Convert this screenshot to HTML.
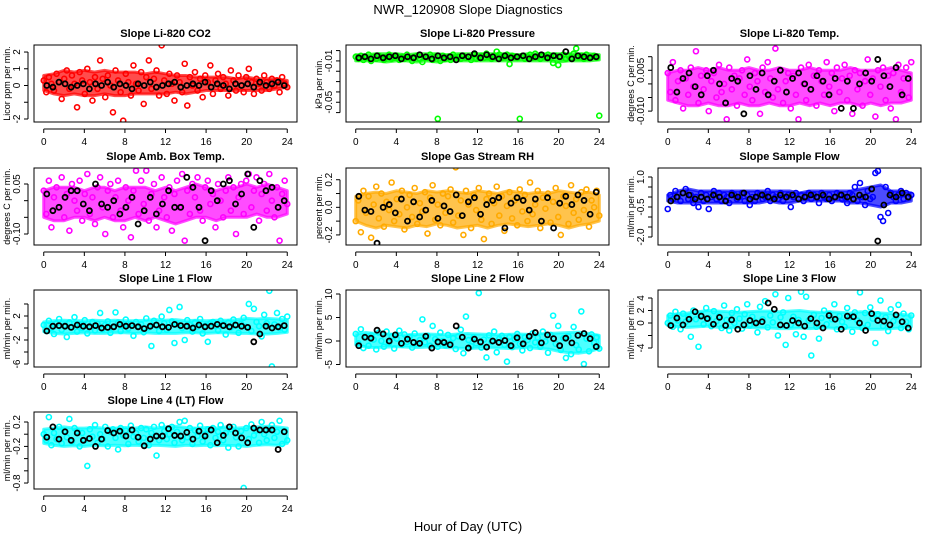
<!DOCTYPE html>
<html><head><meta charset="utf-8">
<style>
html,body{margin:0;padding:0;background:#fff;}
svg{display:block;font-family:"Liberation Sans",sans-serif;}
</style></head>
<body>
<svg id="chart" width="936" height="540" viewBox="0 0 936 540">
<rect width="936" height="540" fill="#fff"/>
<text x="468" y="14" text-anchor="middle" font-size="13">NWR_120908  Slope Diagnostics</text>
<text x="468" y="531" text-anchor="middle" font-size="13">Hour of Day (UTC)</text>
</svg>
<script>
const xTicks = [0,4,8,12,16,20,24];
const co2 = [0.3,-0.4,0.5,0.1,-0.3,0.7,0.2,-0.8,0.4,0.9,-0.2,0.6,0.1,-1.3,0.8,0.3,-0.5,1.0,0.2,-0.9,0.5,-0.2,1.5,0.4,-0.7,0.6,0.0,-1.6,0.9,0.3,-0.4,-2.1,0.7,0.2,-0.6,1.2,0.1,-0.3,0.8,-1.1,0.5,1.5,-0.2,0.4,0.9,-0.6,2.4,0.3,-0.5,0.7,0.1,-0.9,0.6,0.2,-0.4,1.3,-1.2,0.5,0.0,0.8,-0.3,0.4,-0.7,0.6,0.2,1.2,-0.5,0.3,0.7,-0.2,0.5,0.1,-0.6,0.9,0.3,-0.3,0.6,0.0,-0.4,0.5,1.0,0.2,-0.5,0.4,0.1,-0.3,0.6,0.2,-0.2,0.4,0.0,0.3,-0.4,0.5,0.1,-0.1];
const co2Blk = [0.0,-0.1,0.2,0.1,-0.1,0.0,0.1,-0.2,0.1,0.0,0.2,-0.1,0.1,0.0,-0.2,0.1,0.0,0.2,-0.1,0.0,0.1,0.2,-0.1,0.0,0.1,0.0,0.2,-0.1,0.1,0.0,-0.2,0.1,0.0,0.1,-0.1,0.2,0.0,0.1,0.2,0.0];
const co2Hi = [0.6,0.7,0.9,0.8,0.9,0.8,0.9,0.8,0.8,0.8,0.7,0.8,0.7,0.6,0.6,0.5,0.5,0.5,0.5,0.4,0.5,0.4,0.4,0.4,0.3];
const co2Lo = [-0.3,-0.5,-0.6,-0.5,-0.6,-0.6,-0.5,-0.6,-0.6,-0.5,-0.5,-0.5,-0.5,-0.4,-0.5,-0.4,-0.3,-0.3,-0.3,-0.3,-0.3,-0.3,-0.3,-0.2,-0.1];
const pres = [-0.006,-0.008,-0.005,-0.009,-0.007,-0.004,-0.010,-0.006,-0.008,-0.005,-0.007,-0.009,-0.006,-0.004,-0.008,-0.007,-0.005,-0.009,-0.006,-0.008,-0.004,-0.007,-0.010,-0.006,-0.005,-0.008,-0.011,-0.006,-0.007,-0.004,-0.009,-0.006,-0.066,-0.010,-0.005,-0.008,-0.006,-0.009,-0.004,-0.007,-0.006,-0.008,-0.005,-0.007,-0.006,-0.009,-0.004,-0.008,-0.006,-0.005,-0.007,-0.003,-0.006,-0.008,-0.005,-0.001,-0.004,-0.007,-0.006,-0.004,-0.013,-0.005,-0.006,-0.007,-0.066,-0.005,-0.008,-0.006,-0.004,-0.007,-0.003,-0.006,-0.008,-0.005,-0.006,-0.004,-0.007,-0.012,-0.005,-0.014,-0.006,-0.004,-0.008,-0.005,-0.007,-0.003,0.002,-0.006,-0.005,-0.008,-0.004,-0.007,-0.006,-0.005,-0.007,-0.063];
const presBlk = [-0.007,-0.006,-0.008,-0.005,-0.007,-0.006,-0.005,-0.008,-0.006,-0.007,-0.004,-0.006,-0.008,-0.005,-0.007,-0.006,-0.009,-0.005,-0.006,-0.003,-0.007,-0.004,-0.006,-0.008,-0.005,-0.007,-0.006,-0.005,-0.008,-0.006,-0.004,-0.007,-0.005,-0.006,-0.001,-0.008,-0.005,-0.006,-0.007,-0.006];
const presHi = [-0.004,-0.004,-0.003,-0.003,-0.003,-0.004,-0.003,-0.003,-0.003,-0.004,-0.003,-0.003,-0.003,-0.003,-0.003,-0.003,-0.004,-0.003,-0.003,-0.003,-0.003,-0.003,-0.003,-0.003,-0.004];
const presLo = [-0.010,-0.010,-0.010,-0.011,-0.010,-0.010,-0.011,-0.010,-0.011,-0.010,-0.010,-0.010,-0.010,-0.010,-0.010,-0.010,-0.010,-0.010,-0.010,-0.010,-0.011,-0.010,-0.010,-0.010,-0.009];
const temp = [0.004,-0.003,0.008,-0.006,0.001,0.005,-0.009,0.002,-0.004,0.006,-0.001,0.012,-0.007,0.003,-0.002,0.005,-0.010,0.001,0.004,-0.005,0.007,-0.003,0.000,-0.013,0.006,-0.002,0.003,-0.008,0.002,0.005,-0.004,0.009,-0.001,-0.006,0.004,0.001,-0.011,0.006,-0.003,0.008,0.002,-0.005,0.013,-0.002,0.005,-0.007,0.001,0.004,-0.009,0.003,-0.004,-0.013,0.006,0.000,-0.006,0.007,-0.002,0.003,-0.008,0.005,0.001,-0.004,0.008,-0.001,0.004,-0.010,0.006,-0.003,0.002,0.007,-0.006,0.003,-0.011,0.005,-0.002,0.004,-0.008,0.001,0.009,-0.004,0.002,-0.012,0.005,-0.001,0.006,-0.006,0.003,-0.009,0.004,-0.013,0.007,-0.003,0.002,0.006,-0.005,0.008];
const tempBlk = [0.006,-0.003,0.002,0.004,-0.001,-0.004,0.003,0.005,0.000,-0.007,0.002,0.001,-0.011,0.003,-0.002,0.004,-0.004,0.001,0.005,-0.003,0.002,0.004,0.000,-0.002,0.003,0.001,-0.004,0.002,-0.009,0.001,-0.009,0.000,0.004,0.001,0.009,0.003,-0.001,0.006,-0.004,0.002];
const tempHi = [0.004,0.005,0.005,0.006,0.005,0.006,0.005,0.005,0.006,0.005,0.005,0.006,0.005,0.005,0.006,0.005,0.005,0.005,0.006,0.005,0.005,0.005,0.006,0.005,0.004];
const tempLo = [-0.006,-0.007,-0.008,-0.008,-0.007,-0.008,-0.008,-0.007,-0.008,-0.008,-0.007,-0.008,-0.008,-0.007,-0.008,-0.007,-0.008,-0.007,-0.007,-0.008,-0.007,-0.008,-0.007,-0.007,-0.006];
const amb = [0.03,-0.04,0.06,-0.08,0.01,0.04,-0.02,0.07,-0.05,0.02,-0.09,0.05,0.00,-0.03,0.06,-0.06,0.02,0.08,-0.04,0.01,-0.07,0.04,0.07,-0.02,-0.10,0.03,0.05,-0.05,0.01,0.06,-0.03,-0.08,0.04,0.00,-0.11,0.03,0.09,-0.04,0.06,-0.01,0.09,-0.06,0.02,0.05,-0.08,-0.03,0.07,0.01,-0.05,0.04,-0.09,0.02,0.06,-0.02,0.08,-0.12,0.03,-0.04,0.05,0.01,0.07,-0.03,-0.06,0.04,0.06,-0.01,0.02,-0.08,0.05,0.00,-0.05,0.03,0.07,-0.03,0.04,-0.10,0.01,0.05,-0.04,0.06,0.08,-0.02,0.03,0.07,-0.06,0.02,0.05,-0.03,0.08,0.00,-0.05,0.04,-0.12,0.02,0.06,-0.01];
const ambBlk = [0.02,-0.03,-0.02,0.01,0.03,0.03,-0.01,-0.03,0.05,-0.01,-0.02,0.00,-0.04,-0.02,0.01,-0.07,-0.03,0.01,-0.04,-0.01,0.03,-0.02,-0.02,0.07,0.04,-0.02,-0.12,0.03,0.00,0.05,0.06,-0.01,0.02,0.08,-0.08,0.06,0.03,0.04,-0.02,0.00];
const ambHi = [0.03,0.04,0.04,0.04,0.03,0.04,0.04,0.03,0.04,0.04,0.04,0.03,0.04,0.03,0.04,0.05,0.04,0.03,0.04,0.04,0.05,0.04,0.05,0.04,0.03];
const ambLo = [-0.05,-0.06,-0.06,-0.05,-0.05,-0.06,-0.05,-0.06,-0.06,-0.05,-0.06,-0.05,-0.06,-0.07,-0.06,-0.05,-0.05,-0.06,-0.05,-0.05,-0.05,-0.04,-0.05,-0.05,-0.04];
const rh = [-0.1,0.05,-0.18,0.12,-0.04,0.08,-0.22,0.02,0.15,-0.08,0.1,-0.14,0.04,-0.02,0.18,-0.1,0.06,-0.05,0.12,-0.16,0.0,0.09,-0.07,0.14,-0.12,0.03,-0.03,0.11,-0.19,0.07,0.16,-0.09,0.02,-0.13,0.1,-0.04,0.08,0.13,-0.11,0.29,-0.06,0.05,-0.2,0.12,0.02,-0.15,0.09,-0.02,0.14,-0.09,-0.23,0.06,0.1,-0.12,0.03,0.15,-0.06,0.08,-0.17,0.01,0.11,-0.08,0.05,-0.13,0.13,-0.03,0.09,-0.1,0.18,-0.05,0.02,0.12,-0.15,0.07,-0.01,0.1,-0.11,0.04,0.14,-0.07,-0.2,0.08,0.01,-0.12,0.16,-0.04,0.06,-0.09,0.11,-0.02,0.13,-0.14,0.05,0.0,0.12,-0.06];
const rhBlk = [0.08,-0.02,-0.03,-0.26,0.0,0.02,-0.04,0.06,-0.1,0.04,-0.07,-0.02,0.05,-0.08,0.01,-0.03,0.09,-0.06,0.04,0.07,-0.05,0.02,0.05,0.07,-0.15,0.03,0.07,0.05,-0.02,0.06,-0.1,0.07,-0.15,0.03,0.08,0.02,0.09,0.05,-0.05,0.11];
const rhHi = [0.08,0.1,0.11,0.1,0.12,0.11,0.1,0.12,0.11,0.12,0.11,0.1,0.12,0.11,0.1,0.12,0.11,0.1,0.11,0.1,0.12,0.11,0.1,0.11,0.09];
const rhLo = [-0.1,-0.13,-0.15,-0.13,-0.14,-0.15,-0.13,-0.14,-0.12,-0.13,-0.15,-0.14,-0.13,-0.15,-0.13,-0.12,-0.13,-0.14,-0.13,-0.12,-0.13,-0.15,-0.13,-0.12,-0.1];
const samp = [-0.6,0.1,-0.1,0.3,0.0,-0.2,0.2,0.4,-0.1,0.1,-0.3,0.0,-0.5,0.2,-0.2,0.1,-0.6,0.0,0.3,-0.1,0.2,-0.2,0.1,0.0,-0.3,0.2,0.1,-0.1,0.0,0.2,-0.2,0.1,-0.4,0.0,-0.2,0.2,0.1,-0.1,0.0,0.3,-0.2,0.1,0.0,-0.1,0.2,-0.2,0.0,0.1,-0.5,0.0,0.2,-0.1,0.1,-0.2,0.0,0.2,-0.1,0.1,0.0,-0.3,0.2,0.0,-0.1,0.1,-0.2,0.0,0.2,0.1,-0.1,0.0,-0.3,0.2,0.1,0.5,-0.2,0.7,0.0,-0.4,0.3,-0.1,0.0,1.2,1.3,-1.0,-1.2,0.5,-0.8,0.2,0.0,-0.2,0.1,0.3,-0.1,0.2,0.0,0.1];
const sampBlk = [-0.2,0.0,0.2,0.1,-0.1,0.0,-0.1,0.1,0.0,-0.2,0.1,0.0,0.2,-0.1,0.0,0.1,0.0,-0.1,0.1,0.0,0.1,-0.1,0.0,0.1,0.0,0.1,-0.1,0.0,0.1,0.0,-0.1,0.1,0.0,0.4,-2.2,-0.4,0.1,0.0,0.2,0.0];
const sampHi = [0.1,0.3,0.4,0.3,0.3,0.3,0.3,0.3,0.3,0.3,0.3,0.3,0.3,0.2,0.3,0.3,0.3,0.3,0.3,0.4,0.5,0.6,0.3,0.3,0.2];
const sampLo = [-0.2,-0.3,-0.3,-0.3,-0.3,-0.3,-0.3,-0.3,-0.3,-0.3,-0.2,-0.3,-0.3,-0.2,-0.2,-0.2,-0.2,-0.2,-0.3,-0.3,-0.4,-0.5,-0.3,-0.3,-0.2];
const line1 = [0.5,-0.5,1.2,0.0,-1.0,0.8,1.5,-0.3,0.4,-1.5,0.9,0.2,1.8,-0.6,0.6,0.0,1.3,-0.9,0.3,1.0,-0.4,0.7,2.5,-0.2,0.5,1.1,-0.8,0.2,2.6,0.9,-0.5,0.4,1.4,-0.1,0.7,-1.3,1.0,0.3,0.6,-0.7,1.6,0.1,-3.0,1.2,0.4,-0.5,1.9,0.8,-0.3,3.0,1.1,-2.5,0.6,3.5,0.0,-2.0,1.3,0.5,-0.6,0.9,0.2,1.5,-0.9,0.4,-2.3,0.8,1.0,0.3,-0.4,1.2,0.6,-1.1,0.9,0.1,1.4,0.4,-0.8,0.7,1.7,0.2,4.0,-0.5,3.2,1.0,0.3,-1.4,2.2,0.8,6.2,-6.4,0.6,2.5,0.0,1.5,-0.3,1.9];
const line1Blk = [-0.5,0.3,0.4,0.3,0.1,0.5,0.3,0.2,0.4,0.0,0.1,0.2,0.6,0.3,0.4,0.2,-0.1,0.3,0.5,0.2,0.1,0.6,0.4,0.3,0.0,0.5,0.2,0.3,0.6,0.4,0.2,0.5,0.3,0.1,-2.3,-1.0,0.3,0.0,0.2,0.4];
const line1Hi = [1.0,1.2,1.3,1.2,1.2,1.3,1.2,1.3,1.2,1.2,1.3,1.4,1.3,1.4,1.2,1.3,1.2,1.3,1.3,1.4,1.6,1.5,1.6,1.5,1.3];
const line1Lo = [-0.6,-0.9,-1.0,-0.9,-0.8,-0.9,-0.9,-0.8,-0.8,-0.9,-0.8,-0.9,-0.9,-0.9,-0.8,-0.8,-0.9,-0.8,-0.8,-0.9,-0.9,-1.0,-1.0,-0.9,-0.7];
const line2 = [1.5,-0.5,2.5,-1.5,0.8,-1.0,1.2,0.3,-1.8,1.8,0.0,-1.2,2.0,-0.4,1.0,-1.6,0.5,2.2,-0.8,1.4,-0.2,0.9,-1.4,1.6,-0.6,0.2,4.6,-0.3,1.1,-1.0,3.2,0.4,-1.2,1.8,0.0,-0.9,1.3,-0.4,0.6,-1.7,1.0,2.4,-2.6,5.2,0.2,-1.1,0.8,-0.5,10.2,-1.4,0.3,-3.5,1.2,-0.2,2.0,-2.4,0.5,1.1,-0.8,-4.4,0.9,-1.3,0.4,1.5,-0.6,-2.0,0.8,0.2,-1.5,1.6,-0.3,0.7,-1.2,2.0,-0.1,-2.5,1.3,5.4,-0.6,3.2,-1.9,0.6,-3.6,1.0,-2.8,3.0,-0.9,-1.8,6.3,-4.9,0.5,-2.2,1.4,-0.4,0.8,-1.6];
const line2Blk = [-1.0,0.8,0.6,2.3,1.5,0.0,1.3,-0.5,0.4,-0.3,-0.5,1.0,-1.5,-0.2,-0.3,-0.8,3.2,0.8,-1.5,0.4,-0.2,-1.3,0.0,-0.3,0.1,-1.0,0.7,-0.6,1.0,1.8,-0.4,1.3,0.5,-1.0,0.6,-0.4,1.2,1.6,0.5,-1.2];
const line2Hi = [1.5,1.8,1.6,1.5,1.4,1.3,1.4,1.5,1.4,1.3,1.5,1.6,1.5,1.4,1.3,1.4,1.5,1.4,1.5,1.6,1.7,1.8,1.9,1.6,1.2];
const line2Lo = [-0.8,-1.3,-1.4,-1.3,-1.2,-1.3,-1.4,-1.3,-1.3,-1.4,-1.5,-1.6,-1.5,-1.4,-1.5,-1.6,-1.5,-1.4,-1.6,-1.7,-2.2,-2.5,-2.6,-2.3,-1.6];
const line3 = [0.0,1.2,-0.6,1.8,0.4,-1.0,1.5,0.2,0.9,-2.2,2.0,0.6,-3.8,1.3,-0.2,2.4,0.8,-0.5,1.9,0.3,1.1,-0.8,2.8,0.5,-1.2,1.6,0.0,2.2,0.7,-0.9,1.4,3.0,-0.4,1.0,0.2,-1.5,2.6,0.6,3.5,-0.7,1.2,0.1,4.6,-2.0,0.9,1.7,-3.5,4.0,-0.3,1.0,-1.8,0.5,5.0,-2.2,4.2,0.4,-5.2,1.3,-0.6,-2.5,0.8,2.0,-0.2,1.5,0.6,3.0,-1.0,1.1,0.2,-0.6,2.4,0.9,-1.4,1.7,0.4,4.9,-0.8,1.6,-0.3,2.5,0.7,-3.2,1.4,3.6,-0.5,0.9,-1.3,2.2,0.3,1.0,2.9,-0.8,1.5,0.2,-1.0,1.2];
const line3Blk = [-0.4,0.8,-0.3,0.6,1.8,1.1,0.7,-0.2,0.9,-0.4,0.5,-1.0,-0.3,0.4,0.0,0.2,3.2,2.2,-0.3,-0.4,0.4,0.0,-0.5,0.7,0.0,-0.8,1.2,0.6,-1.0,1.1,1.0,0.0,-1.2,1.5,0.4,0.3,-0.3,1.3,0.2,-0.8];
const line3Hi = [1.2,1.5,1.6,1.8,2.0,1.9,1.8,1.7,1.8,1.9,1.9,1.8,1.9,2.0,1.8,1.7,1.8,1.7,1.6,1.8,1.7,1.6,1.5,1.4,1.2];
const line3Lo = [-0.4,-0.6,-0.7,-0.6,-0.5,-0.7,-0.8,-0.7,-0.7,-0.8,-0.8,-0.9,-0.9,-0.8,-0.9,-0.8,-0.8,-0.9,-0.8,-0.9,-1.0,-1.0,-0.9,-0.8,-0.6];
const line4 = [0.0,-0.1,0.28,-0.18,0.02,-0.08,0.12,-0.15,0.05,-0.05,0.25,-0.12,0.1,0.05,-0.2,0.02,-0.1,-0.52,0.08,-0.04,0.15,-0.14,0.0,-0.08,0.12,-0.2,0.04,0.08,-0.06,-0.25,0.1,-0.02,0.06,-0.16,0.14,-0.04,0.02,-0.12,0.1,-0.06,0.08,-0.18,0.02,0.12,-0.35,-0.1,0.15,0.05,-0.08,0.0,0.12,-0.14,0.04,0.2,-0.1,0.22,-0.05,0.1,-0.16,0.06,-0.03,0.14,-0.12,0.0,0.08,-0.18,0.1,-0.06,0.04,0.15,-0.1,0.02,-0.22,0.08,0.12,-0.05,-0.2,0.05,-0.88,0.1,-0.08,0.16,-0.02,0.06,-0.14,0.2,0.0,-0.1,0.08,0.15,-0.06,0.04,0.22,-0.16,0.05,-0.1];
const line4Blk = [-0.05,0.12,-0.08,0.04,-0.1,0.02,-0.1,-0.07,-0.2,-0.08,0.06,0.02,0.05,-0.03,0.07,-0.05,-0.19,-0.08,-0.03,-0.03,0.09,-0.02,-0.03,0.03,-0.08,0.05,-0.03,0.07,-0.14,-0.02,0.12,0.02,-0.06,-0.14,0.1,0.07,0.07,0.07,-0.25,0.04];
const line4Hi = [0.08,0.1,0.12,0.1,0.1,0.11,0.1,0.1,0.11,0.1,0.12,0.1,0.12,0.13,0.11,0.1,0.11,0.1,0.12,0.1,0.11,0.12,0.13,0.12,0.1];
const line4Lo = [-0.15,-0.18,-0.2,-0.19,-0.2,-0.18,-0.19,-0.18,-0.19,-0.18,-0.19,-0.18,-0.19,-0.2,-0.18,-0.19,-0.18,-0.19,-0.18,-0.19,-0.2,-0.18,-0.17,-0.18,-0.15];

const panelTitles = ["Slope Li-820 CO2","Slope Li-820 Pressure","Slope Li-820 Temp.","Slope Amb. Box Temp.","Slope Gas Stream RH","Slope Sample Flow","Slope Line 1 Flow","Slope Line 2 Flow","Slope Line 3 Flow","Slope Line 4 (LT) Flow"];
const yTitles = ["Licor ppm per min.","kPa per min.","degrees C per min.","degrees C per min.","percent per min.","ml/min per min.","ml/min per min.","ml/min per min.","ml/min per min.","ml/min per min."];
const yTicks = [[-2,-1,0,1,2],[0,-0.01,-0.02,-0.03,-0.04,-0.05,-0.06],[0.01,0.005,0,-0.005,-0.01],[0.05,0,-0.05,-0.1],[0.2,0.1,0,-0.1,-0.2],[1,0.5,0,-0.5,-1,-1.5,-2],[4,2,0,-2,-4,-6],[10,5,0,-5],[4,2,0,-2,-4],[0.2,0,-0.2,-0.4,-0.6,-0.8]];
const yTickLabels = [["-2","","0","1","2"],["","-0.01","","","","-0.05",""],["","0.005","","","-0.010"],["0.05","","","-0.10"],["0.2","","0.0","","-0.2"],["1.0","","","-0.5","","","-2.0"],["","2","","-2","","-6"],["10","5","0","-5"],["4","2","0","","-4"],["0.2","","-0.2","","","-0.8"]];
const yLims = [[-2.18,2.42],[-0.0691,0.0054],[-0.014,0.0143],[-0.133,0.098],[-0.273,0.285],[-2.4,1.45],[-6.5,6.33],[-5.53,10.85],[-7.04,5.28],[-0.898,0.364]];
const seriesColor = ["#ff0000","#00ff00","#ff00ff","#ff00ff","#ffaa00","#0000ff","#00ffff","#00ffff","#00ffff","#00ffff"];
const colored = [co2,pres,temp,amb,rh,samp,line1,line2,line3,line4];
const blacks = [co2Blk,presBlk,tempBlk,ambBlk,rhBlk,sampBlk,line1Blk,line2Blk,line3Blk,line4Blk];
const bandHi = [co2Hi,presHi,tempHi,ambHi,rhHi,sampHi,line1Hi,line2Hi,line3Hi,line4Hi];
const bandLo = [co2Lo,presLo,tempLo,ambLo,rhLo,sampLo,line1Lo,line2Lo,line3Lo,line4Lo];

const NS = "http://www.w3.org/2000/svg";
const svg = document.getElementById("chart");
const colLeft = [34,346,658], rowTop = [45,168,290,412], W = 263, H = 77;
function mk(tag, attrs, parent){ const e=document.createElementNS(NS,tag); for(const k in attrs) e.setAttribute(k,attrs[k]); (parent||svg).appendChild(e); return e; }

panelTitles.forEach((title,p)=>{
  const L = colLeft[p%3], T = rowTop[Math.floor(p/3)];
  const [ymin,ymax] = yLims[p];
  const xs = h => L + (h + 0.96) / 25.92 * W;
  const ys = v => T + (ymax - v) / (ymax - ymin) * H;
  const g = mk("g",{});
  
  
  const tt = mk("text",{x:L+W/2,y:T-8,"text-anchor":"middle","font-size":"11","font-weight":"bold"},g);
  tt.textContent = title;
  
  
  const cid = "clip"+p;
  const cp = mk("clipPath",{id:cid},g); mk("rect",{x:L,y:T,width:W,height:H},cp);
  const pts = mk("g",{"clip-path":"url(#"+cid+")"},g);
  const hi = bandHi[p], lo = bandLo[p], nb = hi.length;
  let d = "";
  hi.forEach((v,i)=>{ d += (i?"L":"M") + xs(i*24/(nb-1)).toFixed(1) + "," + ys(v).toFixed(1); });
  for(let i=nb-1;i>=0;i--){ d += "L" + xs(i*24/(nb-1)).toFixed(1) + "," + ys(lo[i]).toFixed(1); }
  d += "Z";
  const band = mk("path",{d:d,fill:seriesColor[p],"fill-opacity":0.7,stroke:seriesColor[p],"stroke-opacity":0.7,"stroke-width":3,"stroke-linejoin":"round"},pts);
  
  
  const cv = colored[p], n = cv.length;
  cv.forEach((v,i)=>{
    const c = mk("circle",{cx:xs(i*24/(n-1)),cy:ys(v),r:2.5,fill:"none",stroke:seriesColor[p],"stroke-width":1.6},pts);
    
    
  });
  const bv = blacks[p], m = bv.length;
  bv.forEach((v,i)=>{
    const c = mk("circle",{cx:xs(0.3 + i*23.4/(m-1)),cy:ys(v),r:2.5,fill:"none",stroke:"#000","stroke-width":1.8},pts);
    
    
  });
  const box = mk("rect",{x:L,y:T,width:W,height:H,fill:"none",stroke:"#000","stroke-width":1},g);
  
  
  const ay = T + H + 7;
  const xa = mk("g",{},g);
  
  
  mk("line",{x1:xs(xTicks[0]),x2:xs(xTicks[xTicks.length-1]),y1:ay,y2:ay,stroke:"#000"},xa);
  xTicks.forEach(t=>{
    mk("line",{x1:xs(t),x2:xs(t),y1:ay,y2:ay+4,stroke:"#000"},xa);
    const lt = mk("text",{x:xs(t),y:ay+16,"text-anchor":"middle","font-size":"10"},xa);
    lt.textContent = t;
  });
  const ax = L - 6;
  const ya = mk("g",{},g);
  
  
  const tk = yTicks[p];
  mk("line",{x1:ax,x2:ax,y1:ys(Math.max(...tk)),y2:ys(Math.min(...tk)),stroke:"#000"},ya);
  tk.forEach((t,i)=>{
    const y = ys(t);
    mk("line",{x1:ax,x2:ax-4,y1:y,y2:y,stroke:"#000"},ya);
    const lab = yTickLabels[p][i];
    if(lab){
      const lt = mk("text",{x:ax-8,y:y,"text-anchor":"middle","font-size":"10",transform:"rotate(-90 "+(ax-8)+" "+y+")"},ya);
      lt.textContent = lab;
    }
  });
  const yt = mk("text",{x:L-24,y:T+H/2,"text-anchor":"middle","font-size":"9",transform:"rotate(-90 "+(L-24)+" "+(T+H/2)+")"},g);
  yt.textContent = yTitles[p];
  
  
});
</script>
</body></html>
